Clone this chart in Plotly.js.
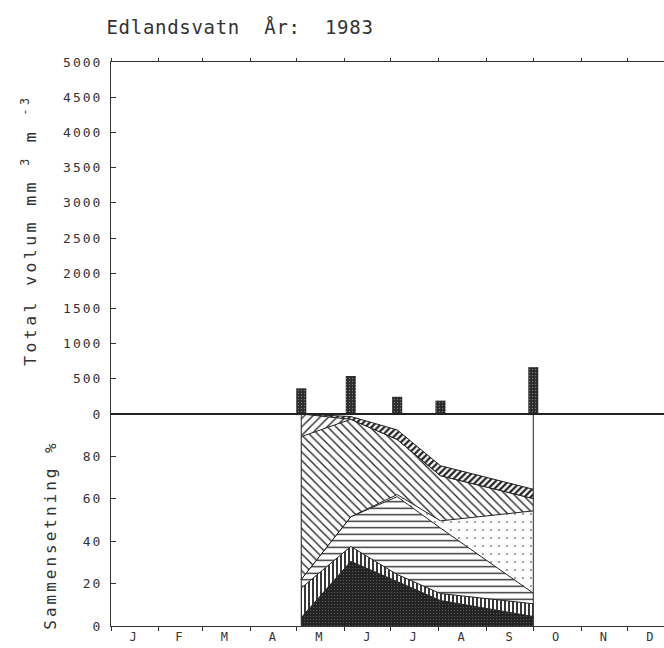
<!DOCTYPE html>
<html>
<head>
<meta charset="utf-8">
<script src="https://cdn.plot.ly/plotly-3.0.1.min.js"></script>
<style>
html,body{margin:0;padding:0;background:#fff;}
#chart{width:664px;height:648px;}
.gtitle{letter-spacing:0.7px;}
.ytitle{letter-spacing:3px;}
.y2title{letter-spacing:3.4px;}
.xtick text,.ytick text,.y2tick text{letter-spacing:2px;}
</style>
</head>
<body>
<div id="chart"></div>
<script>
// ---- data ----
const sampleDates = ['1983-05-04', '1983-06-05', '1983-07-05', '1983-08-02', '1983-10-01'];
const totalVolume = [365, 540, 245, 190, 665];           // mm3 m-3

// composition, % of total volume (stacked bottom -> top)
const groupDark     = [4.0, 30.5, 21.0, 12.0, 4.5];
const groupVertical = [13.9, 7.0, 3.3, 3.3, 6.0];
const groupHoriz    = [4.1, 14.0, 36.7, 30.9, 5.0];
const groupDots     = [0.0, 0.0, 1.0, 3.4, 38.8];
const groupBackDiag = [67.3, 46.0, 26.0, 21.3, 5.8];
const groupFwdDiag  = [10.7, 0.0, 0.0, 0.0, 0.0];
const groupThick    = [0.0, 1.3, 4.5, 4.7, 4.4];

const monthStarts = ['1983-01-01','1983-02-01','1983-03-01','1983-04-01','1983-05-01','1983-06-01',
                     '1983-07-01','1983-08-01','1983-09-01','1983-10-01','1983-11-01','1983-12-01'];
const monthMids   = ['1983-01-16','1983-02-14 12:00','1983-03-16','1983-04-16','1983-05-16','1983-06-16',
                     '1983-07-16','1983-08-16','1983-09-16','1983-10-16','1983-11-16','1983-12-16'];
const monthLabels = ['J','F','M','A','M','J','J','A','S','O','N','D'];

// ---- styles ----
const INK = '#222';
const DAY_MS = 86400000;
const PAD = '\u2800';   // blank glyph used to nudge rotated titles along the axis

function layer(name, y, pattern) {
  const t = {
    type: 'scatter', mode: 'lines', name: name,
    x: sampleDates, y: y, xaxis: 'x', yaxis: 'y',
    stackgroup: 'comp',
    line: {color: INK, width: 1},
    hoverinfo: 'x+y+name'
  };
  if (pattern.fillcolor) t.fillcolor = pattern.fillcolor;
  if (pattern.shape !== undefined) {
    t.fillpattern = {shape: pattern.shape, fgcolor: pattern.fg || INK, bgcolor: pattern.bg || '#fff',
                     size: pattern.size, solidity: pattern.solidity};
  }
  return t;
}

const firstD = sampleDates[0], lastD = sampleDates[sampleDates.length - 1];

const traces = [
  {type: 'bar', name: 'Total volum', x: sampleDates, y: totalVolume, xaxis: 'x2', yaxis: 'y2',
   width: 6.5 * DAY_MS,
   marker: {color: '#333', line: {width: 0},
            pattern: {shape: '.', fgcolor: '#7a7a7a', bgcolor: '#2a2a2a', size: 3, solidity: 0.15}}},
  layer('Gruppe 1', groupDark,     {fillcolor: '#262626', shape: '.', fg: '#666', bg: '#232323', size: 3, solidity: 0.12}),
  layer('Gruppe 2', groupVertical, {shape: '|', size: 4, solidity: 0.45}),
  layer('Gruppe 3', groupHoriz,    {shape: '-', size: 6.5, solidity: 0.2}),
  layer('Gruppe 4', groupDots,     {shape: '.', size: 8, solidity: 0.03}),
  layer('Gruppe 5', groupBackDiag, {shape: '\\', size: 6, solidity: 0.22}),
  layer('Gruppe 6', groupFwdDiag,  {shape: '/', size: 6, solidity: 0.22}),
  layer('Gruppe 7', groupThick,    {shape: '/', size: 4.5, solidity: 0.5}),
  {type: 'scatter', mode: 'lines', x: [firstD, firstD, null, lastD, lastD], y: [0, 100, null, 0, 100],
   xaxis: 'x', yaxis: 'y', line: {color: INK, width: 1}, hoverinfo: 'skip', showlegend: false}
];

const splitY = 212 / 564;

const layout = {
  width: 664, height: 648,
  margin: {l: 111, r: 0, t: 62, b: 22, pad: 0},
  paper_bgcolor: '#fff', plot_bgcolor: '#fff',
  font: {family: 'DejaVu Sans Mono', size: 13, color: '#333'},
  showlegend: false,
  title: {text: 'Edlandsvatn\u00a0\u00a0År:\u00a0\u00a01983', font: {size: 19, color: '#333'},
          xref: 'container', x: 240 / 664, xanchor: 'center',
          yref: 'container', y: 1 - 27 / 648, yanchor: 'middle'},
  xaxis: {type: 'date', range: ['1983-01-01', '1983-12-24 12:00'], anchor: 'y', domain: [0, 1],
          tickmode: 'array', tickvals: monthMids, ticktext: monthLabels, ticks: '',
          tickfont: {size: 12},
          showline: true, linecolor: '#333', linewidth: 1, mirror: true,
          showgrid: false, zeroline: false, ticklabelstandoff: 0,
          minor: {tickmode: 'array', tickvals: monthStarts, ticks: 'outside', ticklen: 4,
                  tickcolor: '#333', tickwidth: 1, showgrid: false}},
  xaxis2: {type: 'date', matches: 'x', anchor: 'y2', side: 'top',
           tickmode: 'array', tickvals: monthStarts, ticks: 'outside', ticklen: 3,
           tickcolor: '#333', showticklabels: false,
           showline: true, linecolor: '#333', linewidth: 1, showgrid: false, zeroline: false},
  yaxis: {domain: [0, splitY], range: [0, 100], tickmode: 'array', tickvals: [0, 20, 40, 60, 80],
          ticks: 'inside', ticklen: 5, tickcolor: '#333', showline: true, linecolor: '#333',
          showgrid: false, zeroline: false, ticklabelstandoff: 5,
          title: {text: 'Sammensetning %' + PAD + PAD, font: {size: 16, color: '#333'}, standoff: 22}},
  yaxis2: {domain: [splitY, 1], range: [0, 5000], tick0: 0, dtick: 500,
           ticks: 'inside', ticklen: 5, tickcolor: '#333', showline: true, linecolor: '#333',
           showgrid: false, zeroline: false, ticklabelstandoff: 5,
           title: {text: PAD + 'Total volum mm <sup>3</sup> m <sup>-3</sup>', font: {size: 16.5, color: '#333'}, standoff: 22}},
  shapes: [{type: 'line', xref: 'x2 domain', yref: 'y2 domain', x0: 0, x1: 1, y0: 0, y1: 0,
            line: {color: '#222', width: 2}}]
};

Plotly.newPlot('chart', traces, layout, {displayModeBar: false, staticPlot: true});
</script>
</body>
</html>
